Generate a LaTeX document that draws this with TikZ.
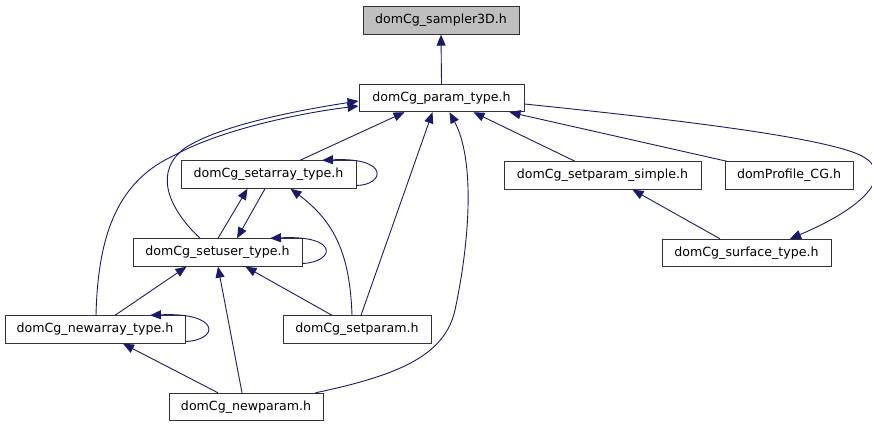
\documentclass[tikz,border=0pt]{standalone}
\usepackage{fontspec}
\setmainfont{DejaVu Sans}
\usetikzlibrary{arrows.meta}
\definecolor{edgec}{HTML}{191970}
\definecolor{boxfill}{HTML}{BFBFBF}
\tikzset{
  box/.style={draw=black!80, line width=0.9pt, fill=white, rectangle, inner sep=0pt,
    minimum height=27.5pt, font=\fontsize{12.6}{14}\selectfont},
  edge/.style={draw=edgec, line width=0.9pt, -{Triangle[length=11pt,width=9pt]}},
}
\begin{document}
\begin{tikzpicture}[x=1pt,y=-1pt]
\useasboundingbox (0,0) rectangle (872,427);
% nodes
\node[box, fill=boxfill, minimum width=156pt] (s3d) at (441,20.5) {domCg\_sampler3D.h};
\node[box, minimum width=165pt] (pt) at (441.5,98) {domCg\_param\_type.h};
\node[box, minimum width=175pt] (sa) at (268.5,174.5) {domCg\_setarray\_type.h};
\node[box, minimum width=169pt] (su) at (217.5,252.5) {domCg\_setuser\_type.h};
\node[box, minimum width=180pt] (na) at (95,329.5) {domCg\_newarray\_type.h};
\node[box, minimum width=148pt] (sp) at (357,329.5) {domCg\_setparam.h};
\node[box, minimum width=154pt] (np) at (246,407) {domCg\_newparam.h};
\node[box, minimum width=197pt] (sps) at (602.5,175.5) {domCg\_setparam\_simple.h};
\node[box, minimum width=128pt] (dp) at (789,175.5) {domProfile\_CG.h};
\node[box, minimum width=169pt] (st) at (746.5,253) {domCg\_surface\_type.h};
% edges
\draw[edge] (pt.north) -- (s3d.south);
\draw[edge] ([xshift=31.5pt]sa.north) -- ([xshift=-37pt]pt.south);
\draw[edge] ([xshift=-17.5pt]su.north) .. controls (165,205) and (155,170) .. (185,148)
  .. controls (220,125) and (300,110) .. ([yshift=-3pt]pt.west);
\draw[edge] ([xshift=1pt]na.north) .. controls (98,230) and (120,180) .. (175,155)
  .. controls (220,130) and (300,113) .. ([yshift=-8pt]pt.west);
\draw[edge] ([xshift=0.5pt]su.north) -- ([xshift=-21pt]sa.south);
\draw[edge] ([xshift=-3.5pt]sa.south) -- ([xshift=19.5pt]su.north);
\draw[edge] ([yshift=-11pt]sa.east) .. controls (385,185) and (390,157) .. ([xshift=53.5pt]sa.north);
\draw[edge] ([yshift=-11pt]su.east) .. controls (335,262) and (340,235) .. ([xshift=52.5pt]su.north);
\draw[edge] ([yshift=-12pt]na.east) .. controls (220,340) and (220,312) .. ([xshift=55pt]na.north);
\draw[edge] ([xshift=-5pt]sp.north) .. controls (350,255) and (335,222) .. ([xshift=22pt]sa.south);
\draw[edge] ([xshift=4pt]sp.north) -- ([xshift=-9pt]pt.south);
\draw[edge] ([xshift=-8pt]np.north east) .. controls (400,375) and (445,355) .. (455,310)
  .. controls (470,240) and (475,160) .. ([xshift=8pt]pt.south);
\draw[edge] ([xshift=20pt]na.north) -- ([xshift=-31pt]su.south);
\draw[edge] ([xshift=-4pt]np.north) -- ([xshift=0.5pt]su.south);
\draw[edge] ([xshift=-25pt]sp.north) -- ([xshift=28pt]su.south);
\draw[edge] ([xshift=-28pt]np.north) -- ([xshift=28pt]na.south);
\draw[edge] ([xshift=-27.5pt]sps.north) -- ([xshift=32pt]pt.south);
\draw[edge] ([xshift=-62pt]dp.north) -- ([xshift=68pt]pt.south);
\draw[edge] ([yshift=-6pt]pt.east) .. controls (680,120) and (820,137) .. (860,155)
  .. controls (895,172) and (870,205) .. ([xshift=43.5pt]st.north);
\draw[edge] ([xshift=-26.5pt]st.north) -- ([xshift=30pt]sps.south);
\end{tikzpicture}
\end{document}
